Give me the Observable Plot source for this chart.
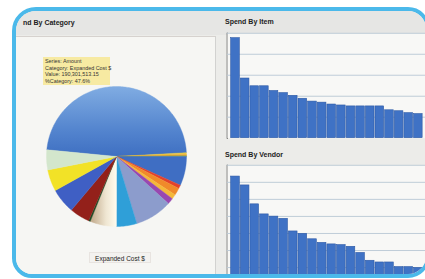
<!DOCTYPE html>
<html><head><meta charset="utf-8">
<script src="https://cdn.jsdelivr.net/npm/d3@7"></script>
<script src="https://cdn.jsdelivr.net/npm/@observablehq/plot@0.6"></script>
<style>
html,body{margin:0;padding:0;width:425px;height:279px;overflow:hidden;background:#fff;font-family:"Liberation Sans",Arial,sans-serif;}
#frame{position:absolute;left:12px;top:7px;width:418px;height:271px;box-sizing:border-box;border:4px solid #4bb9ea;border-radius:24px 22px 22px 20px;overflow:hidden;background:#ecece9;}
.abs{position:absolute;}
#hdr{left:0;top:0;width:100%;height:24px;background:#e6e6e4;}
#leftBody{left:0;top:25px;width:199px;height:245px;background:#f6f6f3;border-top:1px solid #d6d2ce;border-right:1px solid #d2d2d0;}
.ttl{font-size:7px;font-weight:bold;color:#222;white-space:nowrap;}
#tip{left:27px;top:46px;width:67px;height:28px;background:#f7eaa2;font-size:5.4px;line-height:6.6px;color:#333;padding:1px 0 0 2px;box-sizing:border-box;white-space:nowrap;}
#lbl{left:73px;top:241px;width:62px;height:11px;font-size:6.5px;line-height:11px;text-align:center;color:#222;border:1px solid #e8e4e0;background:#f3f2ef;box-sizing:border-box;}
svg{display:block;}
</style></head>
<body>
<div id="frame">
  <div id="hdr" class="abs"></div>
  <div id="leftBody" class="abs"></div>
  <div class="abs ttl" style="left:7px;top:8px;">nd By Category</div>
  <div class="abs ttl" style="left:209px;top:7px;">Spend By Item</div>
  <div class="abs ttl" style="left:209px;top:140px;">Spend By Vendor</div>
  <div id="pie" class="abs" style="left:30px;top:75px;"></div>
  <div id="tip" class="abs">Series: Amount<br>Category: Expanded Cost $<br>Value: 190,301,513.15<br>%Category: 47.6%</div>
  <div id="lbl" class="abs">Expanded Cost $</div>
  <div id="item" class="abs" style="left:206px;top:17px;"></div>
  <div id="vendor" class="abs" style="left:206px;top:149px;"></div>
</div>
<script>
// ---- Data ----
const pieCategories = ["Expanded Cost $","Sliver A","Sliver B","Sliver C","Cat 5","Cat 6","Cat 7","Cat 8","Cat 9","Cat 10","Cat 11","Cat 12","Cat 13","Cat 14","Cat 15","Cat 16","Cat 17"];
const pieShares = [47.6,0.4,0.3,0.2,6.7,0.8,1.7,1.1,1.4,8.6,4.7,6.1,0.4,4.6,5.8,5.0,4.6];
const piePalette = ["url(#gBig)","#e6c840","#f0a032","#6aa040","#3f6ec3","#e2412c","#f08a2a","#f4b83a","#9848b0","#8c9ccc","#2f9fd8","url(#gCream)","#1f4a24","#93201a","#3f5fc4","#f2e227","#d3e6cc"];

const itemNames = ["Item 1","Item 2","Item 3","Item 4","Item 5","Item 6","Item 7","Item 8","Item 9","Item 10","Item 11","Item 12","Item 13","Item 14","Item 15","Item 16","Item 17","Item 18","Item 19","Item 20"];
const itemSpend = [95.4,56.9,49.5,49.5,45.0,43.0,40.4,37.6,34.9,33.9,32.1,31.2,30.3,30.3,30.3,30.3,26.6,25.7,23.9,23.0];
const itemTicks = [20,40,60,80,100];

const vendorNames = ["Vendor 1","Vendor 2","Vendor 3","Vendor 4","Vendor 5","Vendor 6","Vendor 7","Vendor 8","Vendor 9","Vendor 10","Vendor 11","Vendor 12","Vendor 13","Vendor 14","Vendor 15","Vendor 16","Vendor 17","Vendor 18","Vendor 19","Vendor 20"];
const vendorSpend = [63.4,58.2,47.1,41.2,39.9,38.6,31.2,29.8,26.6,24.5,23.6,23.2,22.2,18.6,14.0,13.0,13.0,10.3,10.3,9.8];
const vendorTicks = [10,20,30,40,50,60,70];

// ---- Pie (slices as filled polygons through Plot scales) ----
const startAngle = 185.5;
const pieRows = [];
{
  let a = startAngle;
  pieShares.forEach((s, i) => {
    const span = s / 100 * 360;
    const n = Math.max(2, Math.ceil(span));
    pieRows.push({k: pieCategories[i], x: 0, y: 0});
    for (let j = 0; j <= n; j++) {
      const t = (a + span * j / n) * Math.PI / 180;
      pieRows.push({k: pieCategories[i], x: Math.cos(t), y: Math.sin(t)});
    }
    pieRows.push({k: pieCategories[i], x: 0, y: 0});
    a += span;
  });
}
const pie = Plot.plot({
  width: 140, height: 140, margin: 0,
  style: {background: "transparent", overflow: "visible"},
  x: {domain: [-1, 1], axis: null},
  y: {domain: [1, -1], axis: null},
  color: {domain: pieCategories, range: piePalette},
  marks: [
    Plot.line(pieRows, {x: "x", y: "y", z: "k", fill: "k", stroke: "k", strokeWidth: 0.4, curve: "linear"})
  ]
});
d3.select(pie).insert("defs", ":first-child").html(
  '<linearGradient id="gBig" x1="0" y1="0" x2="0" y2="1"><stop offset="0" stop-color="#80ace2"/><stop offset="0.6" stop-color="#5586cf"/><stop offset="1" stop-color="#3e6fc2"/></linearGradient>' +
  '<linearGradient id="gCream" x1="0" y1="0" x2="1" y2="0"><stop offset="0" stop-color="#bfa788"/><stop offset="0.6" stop-color="#efe6d2"/><stop offset="1" stop-color="#fffbee"/></linearGradient>'
);
document.getElementById("pie").appendChild(pie);

// ---- Bar charts ----
function bars(names, values, ticks, max, h) {
  const rows = names.map((n, i) => ({name: n, value: values[i]}));
  return Plot.plot({
    width: 212, height: h,
    marginLeft: 5, marginRight: 0, marginTop: 5, marginBottom: 5,
    style: {background: "transparent", overflow: "visible"},
    x: {domain: names, paddingInner: 0.13, paddingOuter: 0.1, axis: null},
    y: {domain: [0, max], axis: "left", ticks: [], tickSize: 0, line: true, label: null},
    marks: [
      Plot.frame({fill: "#f8f8f6", stroke: null}),
      Plot.ruleY(ticks, {stroke: "#bccbd6", strokeWidth: 1}),
      Plot.barY(rows, {x: "name", y: "value", fill: "#3f72c5", stroke: "#2c58a4", strokeWidth: 0.6})
    ]
  });
}
document.getElementById("item").appendChild(bars(itemNames, itemSpend, itemTicks, 100, 119));
document.getElementById("vendor").appendChild(bars(vendorNames, vendorSpend, vendorTicks, 70, 134));
</script>
</body></html>
